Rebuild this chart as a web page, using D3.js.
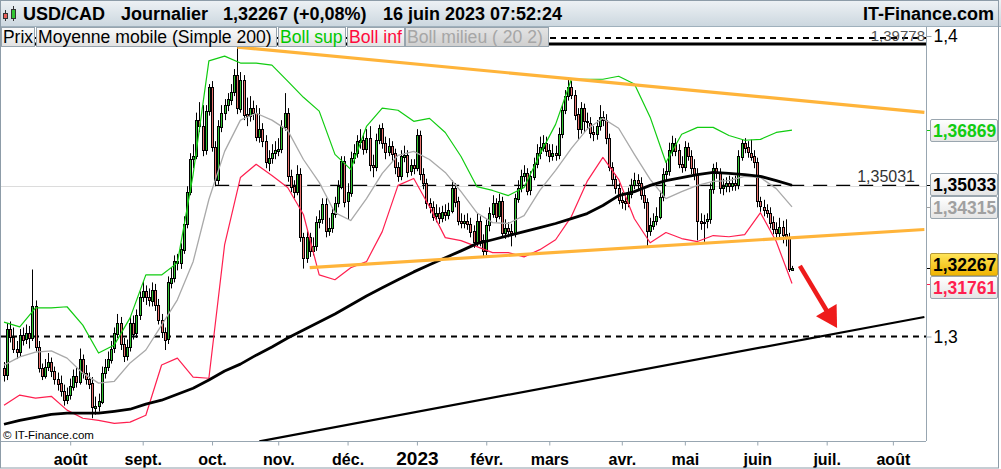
<!DOCTYPE html>
<html><head><meta charset="utf-8">
<script src="https://cdn.jsdelivr.net/npm/d3@7/dist/d3.min.js"></script>
<style>
body{margin:0;background:#fff}
svg{display:block}
text{font-family:"Liberation Sans",Arial,sans-serif}
</style>
</head><body>
<svg id="chart" width="1001" height="469"></svg>
<script>
// ---------------- DATA ----------------
const startDate = "2022-07-01"; // first daily candle (trading days, Mon-Fri)
const opens = [
1.2895,1.2871,1.3025,1.3000,1.2960,1.2950,1.3005,1.2990,1.3010,1.2995,
1.3100,1.2965,1.2895,1.2870,1.2900,1.2915,1.2885,1.2860,1.2845,1.2820,
1.2790,1.2805,1.2835,1.2870,1.2850,1.2925,1.2880,1.2860,1.2845,1.2765,
1.2770,1.2785,1.2880,1.2900,1.2925,1.2960,1.3010,1.3045,1.2975,1.2935,
1.2965,1.3045,1.3010,1.3070,1.3130,1.3150,1.3130,1.3120,1.3155,1.3105,
1.3055,1.3015,1.2990,1.3180,1.3195,1.3250,1.3245,1.3290,1.3375,1.3480,
1.3590,1.3600,1.3720,1.3700,1.3620,1.3750,1.3830,1.3630,1.3520,1.3700,
1.3745,1.3770,1.3790,1.3815,1.3870,1.3760,1.3855,1.3740,1.3735,1.3760,
1.3745,1.3665,1.3690,1.3650,1.3580,1.3595,1.3610,1.3620,1.3625,1.3700,
1.3745,1.3535,1.3500,1.3480,1.3540,1.3330,1.3260,1.3330,1.3285,1.3300,
1.3380,1.3390,1.3440,1.3350,1.3360,1.3410,1.3445,1.3500,1.3585,1.3450,
1.3480,1.3595,1.3610,1.3650,1.3655,1.3625,1.3660,1.3570,1.3565,1.3655,
1.3695,1.3645,1.3615,1.3635,1.3610,1.3565,1.3535,1.3600,1.3605,1.3550,
1.3570,1.3560,1.3670,1.3540,1.3510,1.3445,1.3432,1.3400,1.3410,1.3395,
1.3415,1.3405,1.3420,1.3495,1.3450,1.3385,1.3380,1.3385,1.3375,1.3350,
1.3315,1.3385,1.3320,1.3285,1.3370,1.3410,1.3445,1.3400,1.3450,1.3345,
1.3360,1.3350,1.3345,1.3460,1.3495,1.3535,1.3545,1.3485,1.3533,1.3575,
1.3610,1.3630,1.3645,1.3620,1.3600,1.3610,1.3605,1.3675,1.3755,1.3800,
1.3830,1.3805,1.3740,1.3690,1.3760,1.3716,1.3712,1.3680,1.3672,1.3700,
1.3730,1.3720,1.3660,1.3565,1.3525,1.3495,1.3455,1.3450,1.3445,1.3475,
1.3505,1.3520,1.3510,1.3470,1.3446,1.3350,1.3370,1.3385,1.3400,1.3465,
1.3540,1.3550,1.3620,1.3645,1.3620,1.3575,1.3565,1.3630,1.3600,1.3560,
1.3540,1.3385,1.3380,1.3382,1.3390,1.3490,1.3560,1.3545,1.3495,1.3500,
1.3510,1.3500,1.3510,1.3505,1.3600,1.3645,1.3630,1.3612,1.3600,1.3580,
1.3450,1.3432,1.3422,1.3412,1.3380,1.3358,1.3346,1.3365,1.3340,1.3330,
1.3222];
const highs = [
1.2915,1.3045,1.3050,1.3030,1.2985,1.3025,1.3030,1.3040,1.3035,1.3223,
1.3120,1.2985,1.2910,1.2925,1.2945,1.2930,1.2900,1.2880,1.2870,1.2840,
1.2830,1.2860,1.2890,1.2895,1.2960,1.2940,1.2905,1.2880,1.2865,1.2800,
1.2810,1.2900,1.2925,1.2950,1.2985,1.3030,1.3075,1.3065,1.2995,1.2990,
1.3065,1.3070,1.3090,1.3150,1.3185,1.3170,1.3160,1.3180,1.3175,1.3125,
1.3075,1.3030,1.3200,1.3230,1.3270,1.3275,1.3310,1.3400,1.3500,1.3610,
1.3640,1.3745,1.3780,1.3770,1.3770,1.3840,1.3850,1.3650,1.3720,1.3770,
1.3790,1.3810,1.3840,1.3890,1.3977,1.3880,1.3870,1.3795,1.3800,1.3785,
1.3770,1.3760,1.3710,1.3670,1.3620,1.3640,1.3650,1.3660,1.3720,1.3810,
1.3760,1.3555,1.3520,1.3570,1.3560,1.3345,1.3350,1.3345,1.3330,1.3400,
1.3420,1.3460,1.3460,1.3395,1.3430,1.3465,1.3520,1.3600,1.3600,1.3510,
1.3615,1.3640,1.3670,1.3690,1.3675,1.3690,1.3700,1.3605,1.3675,1.3705,
1.3710,1.3665,1.3660,1.3650,1.3625,1.3580,1.3620,1.3635,1.3620,1.3590,
1.3590,1.3690,1.3685,1.3560,1.3525,1.3460,1.3450,1.3440,1.3430,1.3435,
1.3440,1.3445,1.3520,1.3510,1.3465,1.3410,1.3405,1.3410,1.3395,1.3370,
1.3410,1.3400,1.3340,1.3390,1.3430,1.3470,1.3460,1.3475,1.3465,1.3390,
1.3380,1.3375,1.3475,1.3520,1.3555,1.3570,1.3560,1.3550,1.3595,1.3640,
1.3665,1.3670,1.3665,1.3640,1.3640,1.3635,1.3695,1.3770,1.3820,1.3862,
1.3850,1.3820,1.3760,1.3780,1.3775,1.3745,1.3730,1.3700,1.3720,1.3770,
1.3750,1.3740,1.3675,1.3580,1.3540,1.3510,1.3480,1.3470,1.3495,1.3525,
1.3545,1.3540,1.3530,1.3490,1.3460,1.3395,1.3410,1.3430,1.3485,1.3560,
1.3580,1.3645,1.3668,1.3660,1.3640,1.3600,1.3650,1.3645,1.3620,1.3590,
1.3560,1.3410,1.3405,1.3410,1.3510,1.3575,1.3580,1.3560,1.3525,1.3530,
1.3535,1.3530,1.3535,1.3620,1.3655,1.3660,1.3650,1.3655,1.3620,1.3595,
1.3465,1.3455,1.3440,1.3430,1.3400,1.3380,1.3395,1.3385,1.3390,1.3345,
1.3235];
const lows = [
1.2850,1.2855,1.2980,1.2945,1.2925,1.2935,1.2970,1.2975,1.2960,1.2985,
1.2950,1.2880,1.2855,1.2860,1.2885,1.2865,1.2840,1.2820,1.2800,1.2770,
1.2775,1.2790,1.2820,1.2830,1.2840,1.2860,1.2840,1.2825,1.2728,1.2740,
1.2750,1.2775,1.2860,1.2885,1.2910,1.2945,1.2995,1.2955,1.2915,1.2920,
1.2950,1.2990,1.2995,1.3055,1.3115,1.3105,1.3100,1.3100,1.3085,1.3040,
1.2995,1.2955,1.2975,1.3160,1.3180,1.3220,1.3225,1.3275,1.3360,1.3470,
1.3560,1.3590,1.3680,1.3600,1.3605,1.3735,1.3615,1.3500,1.3505,1.3680,
1.3720,1.3750,1.3770,1.3800,1.3740,1.3745,1.3720,1.3700,1.3715,1.3720,
1.3650,1.3645,1.3630,1.3560,1.3550,1.3575,1.3590,1.3600,1.3610,1.3685,
1.3515,1.3480,1.3460,1.3470,1.3315,1.3226,1.3245,1.3265,1.3270,1.3285,
1.3360,1.3375,1.3330,1.3335,1.3345,1.3395,1.3430,1.3490,1.3430,1.3390,
1.3465,1.3575,1.3595,1.3625,1.3605,1.3610,1.3550,1.3530,1.3550,1.3640,
1.3625,1.3590,1.3600,1.3585,1.3540,1.3515,1.3520,1.3580,1.3530,1.3535,
1.3540,1.3550,1.3520,1.3490,1.3425,1.3410,1.3385,1.3380,1.3375,1.3380,
1.3385,1.3390,1.3410,1.3430,1.3370,1.3360,1.3360,1.3355,1.3330,1.3295,
1.3300,1.3300,1.3262,1.3270,1.3350,1.3395,1.3380,1.3390,1.3330,1.3325,
1.3330,1.3300,1.3330,1.3445,1.3480,1.3515,1.3470,1.3470,1.3520,1.3560,
1.3590,1.3615,1.3600,1.3580,1.3585,1.3585,1.3590,1.3660,1.3740,1.3785,
1.3790,1.3720,1.3655,1.3675,1.3680,1.3690,1.3660,1.3650,1.3655,1.3685,
1.3700,1.3640,1.3550,1.3505,1.3475,1.3440,1.3425,1.3420,1.3430,1.3460,
1.3490,1.3490,1.3455,1.3425,1.3300,1.3335,1.3355,1.3370,1.3390,1.3450,
1.3520,1.3535,1.3600,1.3600,1.3560,1.3545,1.3550,1.3585,1.3540,1.3520,
1.3320,1.3355,1.3315,1.3360,1.3375,1.3475,1.3525,1.3475,1.3470,1.3480,
1.3480,1.3485,1.3485,1.3490,1.3585,1.3610,1.3595,1.3585,1.3560,1.3430,
1.3415,1.3400,1.3395,1.3360,1.3340,1.3325,1.3330,1.3310,1.3300,1.3215,
1.3218];
const closes = [
1.2871,1.3025,1.3000,1.2960,1.2950,1.3005,1.2990,1.3010,1.2995,1.3100,
1.2965,1.2895,1.2870,1.2900,1.2915,1.2885,1.2860,1.2845,1.2820,1.2790,
1.2805,1.2835,1.2870,1.2850,1.2925,1.2880,1.2860,1.2845,1.2765,1.2770,
1.2785,1.2880,1.2900,1.2925,1.2960,1.3010,1.3045,1.2975,1.2935,1.2965,
1.3045,1.3010,1.3070,1.3130,1.3150,1.3130,1.3120,1.3155,1.3105,1.3055,
1.3015,1.2990,1.3180,1.3195,1.3250,1.3245,1.3290,1.3375,1.3480,1.3590,
1.3600,1.3720,1.3700,1.3620,1.3750,1.3830,1.3630,1.3520,1.3700,1.3745,
1.3770,1.3790,1.3815,1.3870,1.3760,1.3855,1.3740,1.3735,1.3760,1.3745,
1.3665,1.3690,1.3650,1.3580,1.3595,1.3610,1.3620,1.3625,1.3700,1.3745,
1.3535,1.3500,1.3480,1.3540,1.3330,1.3260,1.3330,1.3285,1.3300,1.3380,
1.3390,1.3440,1.3350,1.3360,1.3410,1.3445,1.3500,1.3585,1.3450,1.3480,
1.3595,1.3610,1.3650,1.3655,1.3625,1.3660,1.3570,1.3565,1.3655,1.3695,
1.3645,1.3615,1.3635,1.3610,1.3565,1.3535,1.3600,1.3605,1.3550,1.3570,
1.3560,1.3670,1.3540,1.3510,1.3445,1.3432,1.3400,1.3410,1.3395,1.3415,
1.3405,1.3420,1.3495,1.3450,1.3385,1.3380,1.3385,1.3375,1.3350,1.3315,
1.3385,1.3320,1.3285,1.3370,1.3410,1.3445,1.3400,1.3450,1.3345,1.3360,
1.3350,1.3345,1.3460,1.3495,1.3535,1.3545,1.3485,1.3533,1.3575,1.3610,
1.3630,1.3645,1.3620,1.3600,1.3610,1.3605,1.3675,1.3755,1.3800,1.3830,
1.3805,1.3740,1.3690,1.3760,1.3716,1.3712,1.3680,1.3672,1.3700,1.3730,
1.3720,1.3660,1.3565,1.3525,1.3495,1.3455,1.3450,1.3445,1.3475,1.3505,
1.3520,1.3510,1.3470,1.3446,1.3350,1.3370,1.3385,1.3400,1.3465,1.3540,
1.3550,1.3620,1.3645,1.3620,1.3575,1.3565,1.3630,1.3600,1.3560,1.3540,
1.3385,1.3380,1.3382,1.3390,1.3490,1.3560,1.3545,1.3495,1.3500,1.3510,
1.3500,1.3510,1.3505,1.3600,1.3645,1.3630,1.3612,1.3600,1.3580,1.3450,
1.3432,1.3422,1.3412,1.3380,1.3358,1.3346,1.3365,1.3340,1.3330,1.3225,
1.3227];

// indicator series, read every 5th trading day (index 0,5,...,250)
const indicatorStep = 5;
const bollSup = [1.3048,1.3032,1.3095,1.3095,1.3099,1.3038,1.2945,1.2972,1.3062,1.3205,
1.3205,1.3245,1.3539,1.3917,1.3933,1.3910,1.3910,1.3903,1.3850,1.3796,
1.3750,1.3606,1.3556,1.3699,1.3760,1.3753,1.3716,1.3726,1.3679,1.3599,
1.3499,1.3486,1.3469,1.3496,1.3606,1.3706,1.3856,1.3856,1.3856,1.3866,
1.3840,1.3730,1.3579,1.3673,1.3696,1.3696,1.3669,1.3653,1.3656,1.3679,1.36869];
const bollMid = [1.2905,1.2932,1.2948,1.2952,1.2928,1.2878,1.2845,1.2851,1.2912,1.2955,
1.3038,1.3122,1.3249,1.3456,1.3616,1.3720,1.3743,1.3720,1.3686,1.3589,
1.3513,1.3412,1.3386,1.3459,1.3543,1.3603,1.3616,1.3589,1.3546,1.3482,
1.3412,1.3379,1.3376,1.3402,1.3486,1.3553,1.3626,1.3690,1.3726,1.3693,
1.3606,1.3523,1.3459,1.3482,1.3503,1.3516,1.3519,1.3533,1.3529,1.3492,1.34315];
const bollInf = [1.2771,1.2805,1.2795,1.2801,1.2755,1.2728,1.2721,1.2711,1.2715,1.2738,
1.2905,1.2928,1.2865,1.2861,1.3306,1.3529,1.3573,1.3536,1.3496,1.3406,
1.3205,1.3189,1.3229,1.3249,1.3349,1.3503,1.3526,1.3432,1.3329,1.3319,
1.3299,1.3279,1.3279,1.3265,1.3289,1.3322,1.3399,1.3516,1.3596,1.3523,
1.3392,1.3312,1.3346,1.3326,1.3316,1.3336,1.3332,1.3339,1.3412,1.3316,1.31761];
const sma200 = [1.2708,1.2721,1.2731,1.2741,1.2745,1.2745,1.2745,1.2751,1.2758,1.2775,
1.2788,1.2808,1.2828,1.2855,1.2885,1.2908,1.2938,1.2965,1.2995,1.3022,
1.3048,1.3075,1.3105,1.3135,1.3162,1.3189,1.3215,1.3239,1.3262,1.3285,
1.3309,1.3322,1.3336,1.3349,1.3362,1.3376,1.3392,1.3409,1.3436,1.3469,
1.3482,1.3503,1.3519,1.3529,1.3539,1.3546,1.3543,1.3539,1.3533,1.3519,1.35033];

// drawn objects: [tradingDayIndex, price]
const resistanceLine = [[74, 1.3963], [292, 1.3746]];
const supportLine = [[97, 1.3229], [292, 1.3356]];
const longSupportLine = [[81, 1.2651], [292, 1.3065]];
const arrowPoints = [[252.5, 1.3235], [264.3, 1.3028]];
const levelHigh = 1.39778;
const levelMid = 1.35031;
const levelMidStart = 67;

const monthStarts = ["2022-08-01","2022-09-01","2022-10-03","2022-11-01","2022-12-01","2023-01-02",
  "2023-02-01","2023-03-01","2023-04-03","2023-05-01","2023-06-01","2023-07-03","2023-08-01"];
const monthLabels = ["août","sept.","oct.","nov.","déc.","2023","févr.","mars","avr.","mai","juin","juil.","août"];
const yTicks = [1.3, 1.4];
const yTickLabels = ["1,3", "1,4"];
const tagValues = [1.36869, 1.35033, 1.34315, 1.32267, 1.31761];
const tagLabels = ["1,36869", "1,35033", "1,34315", "1,32267", "1,31761"];
const tagKinds = ["sup", "sma", "mid", "price", "inf"];
const legendItems = ["Prix", "Moyenne mobile (Simple 200)", "Boll sup", "Boll inf", "Boll milieu ( 20 2)"];
const headerParts = ["USD/CAD", "Journalier", "1,32267 (+0,08%)", "16 juin 2023 07:52:24"];

// ---------------- HELPERS ----------------
function tradingIndex(dateStr) {
  const d0 = new Date(startDate + "T12:00:00Z"), d1 = new Date(dateStr + "T12:00:00Z");
  let n = 0;
  for (let d = new Date(d0); d < d1; d.setUTCDate(d.getUTCDate() + 1)) {
    const w = d.getUTCDay();
    if (w !== 0 && w !== 6) n++;
  }
  return n;
}

const W = 1001, H = 469;
const plot = {left: 0, right: 926, top: 26, bottom: 441};
const svg = d3.select("#chart");
const defs = svg.append("defs");

const x = d3.scaleLinear().domain([0, 250]).range([4, 792]);
const y = d3.scaleLinear().domain([1.3, 1.4]).range([336.5, 36]);

const colors = {
  up: "#33c533", down: "#ea7470", sup: "#11cc11", inf: "#ff1f4f", mid: "#a9a9a9",
  sma: "#000", orange: "#ffb43a", axis: "#98a6b1", arrow: "#ee1b1b"
};

function grad(id, c1, c2) {
  const g = defs.append("linearGradient").attr("id", id).attr("x1", 0).attr("y1", 0).attr("x2", 0).attr("y2", 1);
  g.append("stop").attr("offset", "0%").attr("stop-color", c1);
  g.append("stop").attr("offset", "100%").attr("stop-color", c2);
}
grad("gHeader", "#eef2f5", "#ccd7df");
grad("gLegend", "#fbfbfb", "#e1e1e1");
grad("gLegendDim", "#e4e4e4", "#cfcfcf");
grad("gTag", "#ffffff", "#e4e4e4");
grad("gTagGold", "#ffe55a", "#f0b400");

defs.append("clipPath").attr("id", "clipPlot").append("rect")
  .attr("x", plot.left).attr("y", plot.top).attr("width", plot.right - plot.left).attr("height", plot.bottom - plot.top);

svg.append("rect").attr("width", W).attr("height", H).attr("fill", "#fff");

// ---------------- PLOT ----------------
const pg = svg.append("g").attr("clip-path", "url(#clipPlot)");

// gridlines / levels
pg.append("line").attr("x1", 0).attr("x2", plot.right).attr("y1", Math.round(y(1.35)) + 0.5).attr("y2", Math.round(y(1.35)) + 0.5)
  .attr("stroke", "#dcdcdc").attr("stroke-width", 1);
yTicks.forEach(v => {
  pg.append("line").attr("x1", 0).attr("x2", plot.right).attr("y1", y(v) + (v === 1.4 ? 2 : 0)).attr("y2", y(v) + (v === 1.4 ? 2 : 0))
    .attr("stroke", "#000").attr("stroke-width", 2).attr("stroke-dasharray", "6,5");
});
pg.append("line").attr("x1", 0).attr("x2", plot.right).attr("y1", y(levelHigh) + 1.3).attr("y2", y(levelHigh) + 1.3)
  .attr("stroke", "#000").attr("stroke-width", 3);
pg.append("line").attr("x1", x(levelMidStart)).attr("x2", plot.right).attr("y1", y(levelMid)).attr("y2", y(levelMid))
  .attr("stroke", "#000").attr("stroke-width", 1.3).attr("stroke-dasharray", "14,9");

// candles
const candles = closes.map((c, i) => ({i, o: opens[i], h: highs[i], l: lows[i], c}));
const cg = pg.append("g");
cg.selectAll("line.wick").data(candles).join("line").attr("class", "wick")
  .attr("x1", d => Math.round(x(d.i)) + 0.5).attr("x2", d => Math.round(x(d.i)) + 0.5)
  .attr("y1", d => y(d.h)).attr("y2", d => y(d.l))
  .attr("stroke", "#000").attr("stroke-width", 1);
cg.selectAll("rect.body").data(candles).join("rect").attr("class", "body")
  .attr("x", d => Math.round(x(d.i)) - 0.5)
  .attr("y", d => Math.round(y(Math.max(d.o, d.c))) + 0.5)
  .attr("width", 2)
  .attr("height", d => Math.max(1, Math.round(Math.abs(y(d.o) - y(d.c)))))
  .attr("fill", d => d.c >= d.o ? colors.up : colors.down)
  .attr("stroke", "#000").attr("stroke-width", 1);

// indicators
const idxs = d3.range(0, closes.length, indicatorStep);
const lineGen = d3.line().x(d => x(d[0])).y(d => y(d[1]));
function series(vals, color, width) {
  pg.append("path").datum(vals.map((v, k) => [idxs[k], v])).attr("d", lineGen)
    .attr("fill", "none").attr("stroke", color).attr("stroke-width", width).attr("stroke-linejoin", "round");
}
series(bollMid, colors.mid, 1.3);
series(bollSup, colors.sup, 1.2);
series(bollInf, colors.inf, 1.2);
series(sma200, colors.sma, 2.8);

// trend lines
[[resistanceLine, colors.orange, 3.2], [supportLine, colors.orange, 3.2], [longSupportLine, "#000", 2.2]].forEach(([pts, c, w]) => {
  pg.append("path").datum(pts).attr("d", lineGen).attr("fill", "none").attr("stroke", c).attr("stroke-width", w);
});

// arrow
{
  const [p0, p1] = arrowPoints.map(p => [x(p[0]), y(p[1])]);
  const dx = p1[0] - p0[0], dy = p1[1] - p0[1], len = Math.hypot(dx, dy);
  const ux = dx / len, uy = dy / len, hl = 21, hw = 12;
  const bx = p1[0] - ux * hl, by = p1[1] - uy * hl;
  pg.append("line").attr("x1", p0[0]).attr("y1", p0[1]).attr("x2", bx + ux * 2).attr("y2", by + uy * 2)
    .attr("stroke", colors.arrow).attr("stroke-width", 4.5);
  pg.append("path").attr("d", `M${p1[0]},${p1[1]}L${bx - uy * hw},${by + ux * hw}L${bx + uy * hw},${by - ux * hw}Z`)
    .attr("fill", colors.arrow);
}

// level labels
svg.append("text").attr("x", 915).attr("y", y(levelMid) - 3).attr("text-anchor", "end")
  .attr("font-size", 16).attr("fill", "#333").text("1,35031");
svg.append("text").attr("x", 925).attr("y", y(levelHigh) - 2).attr("text-anchor", "end")
  .attr("font-size", 15).attr("fill", "#555").text("1,39778");

// copyright
svg.append("text").attr("x", 3).attr("y", 439).attr("font-size", 11.5).attr("fill", "#000").text("© IT-Finance.com");

// ---------------- AXES ----------------
// bottom axis
const tickIdx = monthStarts.map(tradingIndex);
const xAxis = d3.axisBottom(x).tickValues(tickIdx).tickSize(4).tickFormat((d, i) => monthLabels[i]);
const xg = svg.append("g").attr("transform", `translate(0,${plot.bottom + 0.5})`).call(xAxis);
xg.select(".domain").attr("d", `M0,0H${plot.right}`).attr("stroke", colors.axis);
xg.selectAll(".tick line").attr("stroke", colors.axis);
xg.selectAll(".tick text").attr("y", 23).attr("dy", 0)
  .attr("font-family", '"Liberation Sans",Arial,sans-serif').attr("font-weight", "bold")
  .attr("font-size", (d, i) => monthLabels[i] === "2023" ? 19 : 16).attr("fill", "#000");

// right axis
const yAxis = d3.axisRight(y).tickValues(yTicks).tickSize(5).tickFormat((d, i) => yTickLabels[i]);
const yg = svg.append("g").attr("transform", `translate(${plot.right + 0.5},0)`).call(yAxis);
yg.select(".domain").attr("d", `M0,${plot.top}V${plot.bottom}`).attr("stroke", colors.axis);
yg.selectAll(".tick line").attr("stroke", colors.axis);
yg.selectAll(".tick text").attr("x", 7).attr("font-family", '"Liberation Sans",Arial,sans-serif')
  .attr("font-size", 17.5).attr("fill", "#000");

// price tags with overlap resolution
{
  const hgt = 23;
  const tags = tagValues.map((v, i) => ({v, label: tagLabels[i], kind: tagKinds[i], yv: y(v), yc: y(v)}));
  tags.sort((a, b) => a.yv - b.yv);
  for (let it = 0; it < 20; it++) {
    for (let k = 1; k < tags.length; k++) {
      const a = tags[k - 1], b = tags[k];
      const ov = hgt - (b.yc - a.yc);
      if (ov > 0) { a.yc -= ov / 2; b.yc += ov / 2; }
    }
  }
  const tc = {sup: colors.sup, sma: "#000", mid: "#a0a0a0", price: "#000", inf: colors.inf};
  const tg = svg.append("g");
  tags.forEach(t => {
    tg.append("line").attr("x1", plot.right + 1).attr("x2", 931).attr("y1", Math.round(t.yv) + 0.5).attr("y2", Math.round(t.yv) + 0.5)
      .attr("stroke", tc[t.kind]).attr("stroke-width", 1);
    tg.append("rect").attr("x", 930.5).attr("y", Math.round(t.yc - hgt / 2) + 0.5).attr("width", 67).attr("height", hgt - 1)
      .attr("rx", 1.5).attr("fill", t.kind === "price" ? "url(#gTagGold)" : "url(#gTag)")
      .attr("stroke", t.kind === "price" ? "#b59a3a" : "#9aa6af").attr("stroke-width", 1);
    tg.append("text").attr("x", 933).attr("y", t.yc + 6.5).attr("font-size", 17.5).attr("font-weight", "bold")
      .attr("fill", tc[t.kind]).text(t.label);
  });
}

// ---------------- LEGEND ----------------
{
  const lg = svg.append("g");
  const lcol = ["#000", "#000", "#00c800", "#ff0a3c", "#a6a6a6"];
  const boxEdges = [[1.5, 34.5], [36.5, 276.5], [278.5, 345.5], [347.5, 404.5], [405.5, 548.5]];
  legendItems.forEach((s, i) => {
    const [a, b] = boxEdges[i];
    lg.append("rect").attr("x", a).attr("y", 27.5).attr("height", 19).attr("width", b - a)
      .attr("fill", i === 4 ? "url(#gLegendDim)" : "url(#gLegend)").attr("stroke", "#97a4ae");
    const t = lg.append("text").attr("x", a + 1.5).attr("y", 43).attr("font-size", 17.6).attr("fill", lcol[i]).text(s);
    const avail = b - a - 3;
    if (t.node().getComputedTextLength() > avail) t.attr("textLength", avail).attr("lengthAdjust", "spacingAndGlyphs");
  });
}

// ---------------- HEADER ----------------
svg.append("rect").attr("x", 0).attr("y", 0).attr("width", W).attr("height", 26).attr("fill", "url(#gHeader)");
svg.append("line").attr("x1", 0).attr("x2", W).attr("y1", 26.5).attr("y2", 26.5).attr("stroke", "#9fb0bc");
// icon
svg.append("line").attr("x1", 5.5).attr("x2", 5.5).attr("y1", 10).attr("y2", 21).attr("stroke", "#333");
svg.append("rect").attr("x", 3.5).attr("y", 13.5).attr("width", 4).attr("height", 5).attr("fill", "#e8605a").attr("stroke", "#333");
svg.append("line").attr("x1", 13.5).attr("x2", 13.5).attr("y1", 6).attr("y2", 21).attr("stroke", "#333");
svg.append("rect").attr("x", 11.5).attr("y", 9.5).attr("width", 4).attr("height", 9).attr("fill", "#33c533").attr("stroke", "#333");
const hx = [23, 121, 223, 383];
headerParts.forEach((s, i) => {
  svg.append("text").attr("x", hx[i]).attr("y", 19.5).attr("font-size", 18).attr("font-weight", "bold").attr("fill", "#000").text(s);
});
svg.append("text").attr("x", 994).attr("y", 19.5).attr("text-anchor", "end").attr("font-size", 18).attr("font-weight", "bold")
  .attr("fill", "#000").text("IT-Finance.com");

// outer frame
svg.append("rect").attr("x", 0.5).attr("y", 0.5).attr("width", 998).attr("height", 467.5)
  .attr("fill", "none").attr("stroke", "#8d9ca8");
</script>
</body></html>
